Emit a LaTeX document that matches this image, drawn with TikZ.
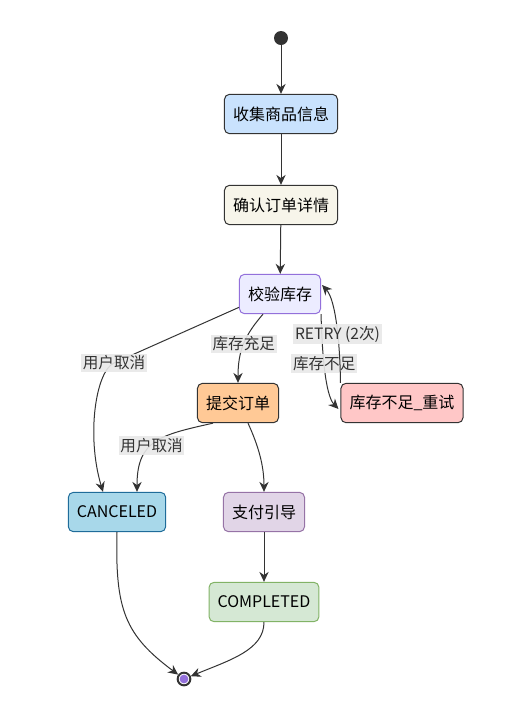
\documentclass[tikz,border=0pt]{standalone}
\usepackage{fontspec}
\setmainfont{Noto Sans CJK SC}
\usetikzlibrary{positioning,calc,arrows.meta}

\definecolor{ink}{HTML}{333333}
\definecolor{lblgray}{HTML}{E8E8E8}
\definecolor{sjfill}{HTML}{C9E2FD}
\definecolor{qrfill}{HTML}{F7F5EA}
\definecolor{jyfill}{HTML}{ECECFF}
\definecolor{jydraw}{HTML}{9370DB}
\definecolor{tjfill}{HTML}{FFC996}
\definecolor{rtfill}{HTML}{FFC7C7}
\definecolor{cnfill}{HTML}{A8D8EA}
\definecolor{cndraw}{HTML}{1F6C9A}
\definecolor{zffill}{HTML}{E1D5E7}
\definecolor{zfdraw}{HTML}{9673A6}
\definecolor{cpfill}{HTML}{D5E8D4}
\definecolor{cpdraw}{HTML}{82B366}
\definecolor{endpurple}{HTML}{9370DB}

\begin{document}
\begin{tikzpicture}[x=0.75pt,y=-0.75pt,
  state/.style={draw=ink, rounded corners=3.75pt, line width=0.75pt, minimum height=29.5pt, inner xsep=6.4pt, font=\fontsize{12}{14}\selectfont},
  lbl/.style={fill=lblgray, fill opacity=0.9, text opacity=1, inner xsep=1.2pt, inner ysep=1.5pt, text=ink, font=\fontsize{11.7}{13}\selectfont},
  flow/.style={draw=ink, line width=0.75pt, -{Stealth[length=7.5pt,width=7pt]}}]

\useasboundingbox (0,0) rectangle (510,719);

\node[circle, fill=ink, minimum size=10.5pt, inner sep=0pt] (st) at (281,38) {};
\node[state, fill=sjfill] (sj) at (281,114) {收集商品信息};
\node[state, fill=qrfill] (qr) at (281,205) {确认订单详情};
\node[state, fill=jyfill, draw=jydraw] (jy) at (280,294) {校验库存};
\node[state, fill=tjfill] (tj) at (238,403) {提交订单};
\node[state, fill=rtfill] (rt) at (402,403) {库存不足\_重试};
\node[state, fill=cnfill, draw=cndraw] (cn) at (117,512) {CANCELED};
\node[state, fill=zffill, draw=zfdraw] (zf) at (264,512) {支付引导};
\node[state, fill=cpfill, draw=cpdraw] (cp) at (264,602) {COMPLETED};
\node[circle, draw=ink, line width=1.5pt, fill=white, minimum size=9.5pt, inner sep=0pt] (ed) at (184,679) {};
\fill[endpurple] (ed) circle (3.3pt);

		\draw[flow] (st) -- (sj);
		\draw[flow] (sj) -- (qr);
		\draw[flow] (qr) -- (jy);

		\draw[flow] ($(jy.south)+(-17,0)$) .. controls (245,335) and (238,350) .. (tj.north) node[lbl, pos=0.5]{库存充足};
		\draw[flow] (jy.198) -- (114,363) node[lbl]{用户取消} .. controls (96,371) and (86,435) .. ($(cn.north)+(-14,0)$);
		\draw[flow] (jy.south east) .. controls (322,350) and (325,395) .. ($(rt.west)+(-2,6)$) node[lbl, pos=0.44]{库存不足};
		\draw[flow] (rt.north west) .. controls (340,345) and (336,300) .. ($(jy.east)+(1,-9)$) node[lbl, pos=0.42]{RETRY (2次)};

		\draw[flow] ($(tj.south)+(-25,0)$) .. controls (160,435) and (137,440) .. ($(cn.north)+(20,0)$) node[lbl, pos=0.55]{用户取消};
		\draw[flow] ($(tj.south)+(10,0)$) .. controls (258,445) and (264,465) .. (zf.north);
		\draw[flow] (zf) -- (cp);

		\draw[flow] (cn.south) .. controls (115,610) and (125,635) .. (ed);
		\draw[flow] (cp.south) .. controls (264,650) and (230,660) .. (ed);

\end{tikzpicture}
\end{document}
